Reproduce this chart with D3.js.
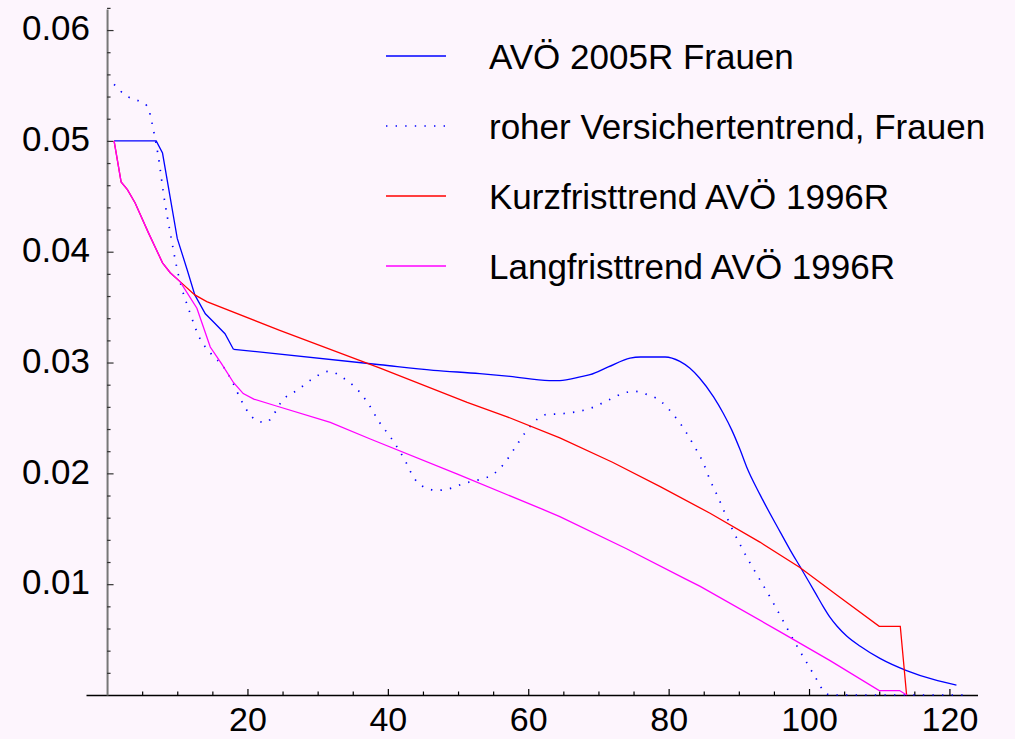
<!DOCTYPE html>
<meta charset="utf-8">
<head>
    <title>Sterblichkeitstrends Frauen</title>
</head>
<style>
    body { margin: 0; background: #fdf5fd; }
    text { font-family: "Liberation Sans", Arial, sans-serif; fill: #000; }
</style>
<script src="https://cdn.jsdelivr.net/npm/d3@7"></script>

<div id="chart"></div>
<script>

    // AVÖ 2005R Frauen
    var avoAges = [1, 7, 7.9, 10, 11.4, 12.5, 14, 15.1, 16.8, 18, 38.9, 46.5, 53.1, 57.4, 63, 64.5, 67.4, 68.8,
                   71.4, 74.5, 76, 79.5, 81.6, 83, 84.4, 86.4, 87.8, 89, 90.2, 91.1, 93, 95.9, 97.3, 98.7, 100,
                   101, 102, 103, 104, 105.4, 107.3, 110.1, 113.9, 117.7, 121];
    var avoVals = [0.0500, 0.0500, 0.0489, 0.0412, 0.0384, 0.0361, 0.0344, 0.0337, 0.0326, 0.0312, 0.0298, 0.0293,
                   0.0290, 0.02875, 0.02837, 0.02837, 0.0287, 0.0289, 0.0296, 0.0304, 0.0305, 0.0305, 0.0301, 0.0295,
                   0.0286, 0.0269, 0.0254, 0.0239, 0.0221, 0.0206, 0.0181, 0.0147, 0.0131, 0.0116, 0.0102, 0.0091,
                   0.0080, 0.0070, 0.0062, 0.0053, 0.0044, 0.0033, 0.0022, 0.0014, 0.0009];
    var avoBreak = 18; // sharp corners up to here, smooth afterwards

    // roher Versichertentrend, Frauen
    var rawAges = [1, 2.9, 4.1, 5.3, 6, 6.6, 7.3, 8.1, 9, 10.2, 11.8, 13.2, 14.8, 16.6, 17.9, 19.1, 20.5, 21.5, 22.7,
                   23.6, 25, 27.1, 29.2, 31.6, 33.9, 35.9, 37.4, 38.8, 40.4, 42.5, 43.7, 45.8, 47, 48.4, 50.9, 53.4,
                   54.7, 56.6, 58.1, 59.6, 61.3, 62.5, 65.1, 69, 71.4, 73.9, 75.2, 76.5, 78.9, 80.8, 82.3, 83.6, 84.9,
                   85.9, 87, 88.1, 89.2, 90.4, 91.7, 93, 94.3, 95, 96.9, 98.2, 99.6, 100.9, 102.3, 103, 122];
    var rawVals = [0.0551, 0.0540, 0.0537, 0.0534, 0.0527, 0.0510, 0.0486, 0.0450, 0.0417, 0.0378, 0.0345, 0.0322,
                   0.0308, 0.0296, 0.0282, 0.0266, 0.0252, 0.0247, 0.0246, 0.0252, 0.0266, 0.0275, 0.0285, 0.0292,
                   0.0285, 0.0274, 0.0261, 0.0246, 0.02325, 0.0211, 0.0196, 0.0186, 0.01847, 0.01856, 0.0191, 0.0195,
                   0.0198, 0.0209, 0.0223, 0.0237, 0.0249, 0.0253, 0.0254, 0.0259, 0.0266, 0.0273, 0.0274, 0.0272,
                   0.0265, 0.0252, 0.0239, 0.0225, 0.0210, 0.0194, 0.0179, 0.0163, 0.0148, 0.0133, 0.0118, 0.0104,
                   0.0090, 0.0082, 0.0060, 0.0045, 0.0030, 0.0016, 0.0002, 0, 0];

    // Kurzfristtrend AVÖ 1996R
    var kurzAges = [1, 2, 2.9, 4, 5.9, 7.9, 9, 10.4, 12.5, 14.2, 24.6, 38.9, 51.3, 57, 64.5, 72, 78.8, 85.9, 93,
                    98.7, 104, 110, 113, 113.9];
    var kurzVals = [0.0500, 0.0463, 0.0456, 0.0444, 0.0417, 0.0390, 0.0381, 0.0373, 0.0361, 0.0355, 0.0329, 0.0295,
                    0.0264, 0.0251, 0.0232, 0.0210, 0.0188, 0.0164, 0.0138, 0.0115, 0.0090, 0.0062, 0.0062, 0];

    // Langfristtrend AVÖ 1996R
    var langAges = [1, 2, 2.9, 4, 5.9, 7.9, 9, 10.4, 12.8, 14.7, 16.3, 18, 19.4, 20.9, 24, 31.8, 37.5, 50, 61.9,
                    64.5, 74, 82.3, 84.5, 95.9, 103, 110, 112.9, 113.9];
    var langVals = [0.0500, 0.0463, 0.0456, 0.0444, 0.0417, 0.0390, 0.0381, 0.0373, 0.0349, 0.0314, 0.0299, 0.0282,
                    0.0272, 0.0267, 0.0261, 0.0246, 0.0231, 0.0199, 0.0168, 0.0161, 0.0132, 0.0105, 0.0098, 0.0057,
                    0.0031, 0.0004, 0.0004, 0];

    var legendLabels = ["AVÖ 2005R Frauen", "roher Versichertentrend, Frauen",
                        "Kurzfristtrend AVÖ 1996R", "Langfristtrend AVÖ 1996R"];
    var xMajorTicks = [20, 40, 60, 80, 100, 120];
    var yMajorTicks = [0.01, 0.02, 0.03, 0.04, 0.05, 0.06];

    var width = 1015, height = 739;

    var svg = d3.select("#chart")
      .append("svg")
        .attr("width", width)
        .attr("height", height);

    svg.append("rect")
        .attr("width", width)
        .attr("height", height)
        .attr("fill", "#fdf5fd");

    var x = d3.scaleLinear().domain([-3, 124]).range([86, 977.5]);
    var y = d3.scaleLinear().domain([0, 0.0619]).range([695, 9]);

    var xMinor = d3.range(0, 121, 5).filter(function(d) { return d % 20 != 0; });
    var yMinor = d3.range(1, 32).map(function(i) { return +(i * 0.002).toFixed(3); })
        .filter(function(d) { return yMajorTicks.indexOf(d) < 0; });

    // x axis
    svg.append("g")
        .attr("transform", "translate(0," + y(0) + ")")
        .call(d3.axisBottom(x).tickValues(xMinor).tickSize(-3.5).tickSizeOuter(0).tickFormat(""))
        .call(function(g) {
            g.select(".domain").attr("stroke", "#000").attr("stroke-width", 1.4);
            g.selectAll(".tick line").attr("stroke", "#000").attr("stroke-width", 1.2);
        });

    svg.append("g")
        .attr("transform", "translate(0," + y(0) + ")")
        .call(d3.axisBottom(x).tickValues(xMajorTicks).tickSize(-6).tickPadding(12).tickFormat(d3.format("d")))
        .call(function(g) {
            g.select(".domain").remove();
            g.selectAll(".tick line").attr("stroke", "#000").attr("stroke-width", 1.2);
            g.selectAll("text").attr("font-size", 34).attr("font-family", "Liberation Sans, Arial, sans-serif");
        });

    // y axis
    svg.append("g")
        .attr("transform", "translate(" + x(0) + ",0)")
        .call(d3.axisLeft(y).tickValues(yMinor).tickSize(-3.5).tickSizeOuter(0).tickFormat(""))
        .call(function(g) {
            g.select(".domain").attr("stroke", "#777").attr("stroke-width", 2);
            g.selectAll(".tick line").attr("stroke", "#333").attr("stroke-width", 1.2);
        });

    svg.append("g")
        .attr("transform", "translate(" + x(0) + ",0)")
        .call(d3.axisLeft(y).tickValues(yMajorTicks).tickSize(-6.5).tickPadding(17).tickFormat(d3.format(".2f")))
        .call(function(g) {
            g.select(".domain").remove();
            g.selectAll(".tick line").attr("stroke", "#333").attr("stroke-width", 1.2);
            g.selectAll("text").attr("font-size", 35).attr("dy", "0.28em")
                .attr("font-family", "Liberation Sans, Arial, sans-serif");
        });

    var avoPts = d3.zip(avoAges, avoVals);
    var series = [
        { parts: [[avoPts.filter(function(d) { return d[0] <= avoBreak; }), d3.curveLinear],
                  [avoPts.filter(function(d) { return d[0] >= avoBreak; }), d3.curveMonotoneX]],
          color: "#0000ff", dash: null },
        { parts: [[d3.zip(rawAges, rawVals), d3.curveMonotoneX]], color: "#0000ff", dash: "1.4,8.2" },
        { parts: [[d3.zip(kurzAges, kurzVals), d3.curveLinear]], color: "#ff0000", dash: null },
        { parts: [[d3.zip(langAges, langVals), d3.curveLinear]], color: "#ff00ff", dash: null }
    ];

    series.forEach(function(s) {
        s.parts.forEach(function(p) {
            var line = d3.line()
                .curve(p[1])
                .x(function(d) { return x(d[0]); })
                .y(function(d) { return y(d[1]); });
            svg.append("path")
                .datum(p[0])
                .attr("fill", "none")
                .attr("stroke", s.color)
                .attr("stroke-width", s.dash ? 1.7 : 1.3)
                .attr("stroke-dasharray", s.dash)
                .attr("d", line);
        });
    });

    // legend
    var legend = svg.append("g");
    series.forEach(function(s, i) {
        var ly = 56 + i * 70;
        legend.append("line")
            .attr("x1", 386).attr("x2", 446)
            .attr("y1", ly).attr("y2", ly)
            .attr("stroke", s.color)
            .attr("stroke-width", s.dash ? 1.7 : 1.3)
            .attr("stroke-dasharray", s.dash);
        legend.append("text")
            .attr("x", 489)
            .attr("y", ly + 13)
            .attr("font-size", 35)
            .text(legendLabels[i]);
    });
</script>
